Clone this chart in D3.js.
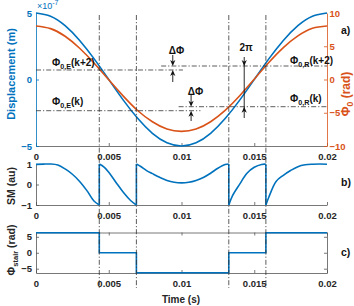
<!DOCTYPE html>
<html>
<head>
<meta charset="utf-8">
<script src="https://cdn.jsdelivr.net/npm/d3@7"></script>
<style>
  body { margin: 0; background: #fff; }
  svg { font-family: "Liberation Sans", Arial, sans-serif; }
</style>
</head>
<body>
<script>
const width = 354;
const height = 306;
const blue = "#0072BD";
const orange = "#D95319";
const axisGray = "#555";
const ink = "#262626";

// ---- data ----
const time = [0, 0.001, 0.002, 0.003, 0.004, 0.005, 0.006, 0.007, 0.008, 0.009, 0.01,
  0.011, 0.012, 0.013, 0.014, 0.015, 0.016, 0.017, 0.018, 0.019, 0.02];
// displacement in units of 1e-7 m
const displacement = [5.0, 4.76, 4.05, 2.94, 1.55, 0.0, -1.55, -2.94, -4.05, -4.76, -5.0,
  -4.76, -4.05, -2.94, -1.55, 0.0, 1.55, 2.94, 4.05, 4.76, 5.0];
// phase phi0 (rad)
const phi0 = [8.05, 7.65, 6.5, 4.7, 2.45, -0.05, -2.5, -4.7, -6.35, -7.45, -7.8,
  -7.45, -6.35, -4.65, -2.45, 0.05, 2.55, 4.8, 6.55, 7.7, 8.05];

const switchTimes = [0.00435, 0.0069, 0.01325, 0.0158];

const smSeg1 = [[0, 0.98], [0.0005, 0.995], [0.001, 1.0], [0.0015, 0.95], [0.002, 0.76],
  [0.0025, 0.5], [0.003, 0.15], [0.0035, -0.3], [0.004, -0.82], [0.00435, -1.0]];
const smSeg2 = [[0.00435, 1.0], [0.0047, 0.84], [0.005, 0.6], [0.0055, 0.1], [0.006, -0.38],
  [0.0065, -0.78], [0.0069, -1.0]];
const smSeg3 = [[0.0069, 1.0], [0.0072, 0.88], [0.0076, 0.68], [0.008, 0.53], [0.0085, 0.35],
  [0.009, 0.2], [0.0095, 0.11], [0.01, 0.08], [0.0105, 0.11], [0.011, 0.2], [0.0115, 0.34],
  [0.012, 0.55], [0.0125, 0.79], [0.013, 0.97], [0.01325, 1.0]];
const smSeg4 = [[0.01325, -1.0], [0.0135, -0.55], [0.014, 0.02], [0.0145, 0.55], [0.015, 0.84],
  [0.0155, 0.98], [0.0158, 0.99]];
const smSeg5 = [[0.0158, -1.0], [0.016, -0.62], [0.0165, 0.15], [0.017, 0.45], [0.0175, 0.68],
  [0.018, 0.87], [0.0185, 0.96], [0.019, 0.99], [0.0195, 1.0], [0.02, 0.99]];
const smSegments = [smSeg1, smSeg2, smSeg3, smSeg4, smSeg5];

const stairTimes = [0, 0.00435, 0.0069, 0.01325, 0.0158, 0.02];
const stairLevels = [6.28, 0, -6.28, 0, 6.28, 6.28];

const phiE = [-4.69, 1.43]; // phi0,E(k), phi0,E(k+2)
const phiR = [-4.09, 2.03]; // phi0,R(k), phi0,R(k+2)

const xTicks = [0, 0.005, 0.01, 0.015, 0.02];
const dispTicks = [-5, 0, 5];
const phiTicks = [-10, -5, 0, 5, 10];
const smTicks = [-1, 0, 1];
const stairTicks = [-5, 0, 5];

// ---- scales ----
const x = d3.scaleLinear().domain([0, 0.02]).range([36, 327]);
const yDisp = d3.scaleLinear().domain([-5, 5]).range([146, 13]);
const yPhi = d3.scaleLinear().domain([-10, 10]).range([146, 13]);
const ySM = d3.scaleLinear().domain([-1, 1]).range([205, 164]);
const yStair = d3.scaleLinear().domain([-6.35, 6.35]).range([273, 232.5]);

const fmt = d3.format("~g");

const svg = d3.select("body").append("svg")
  .attr("width", width)
  .attr("height", height);

function styleAxis(g, color, textColor) {
  g.attr("font-family", null).attr("font-size", null);
  g.select(".domain").attr("stroke", color).attr("stroke-width", 0.8);
  g.selectAll(".tick line").attr("stroke", color).attr("stroke-width", 0.8);
  g.selectAll(".tick text")
    .attr("fill", textColor)
    .attr("font-size", 9.5)
    .attr("font-weight", "bold");
}

function xAxisAt(y0) {
  svg.append("g")
    .attr("transform", `translate(0,${y0})`)
    .call(d3.axisBottom(x).tickValues(xTicks).tickFormat(fmt)
      .tickSize(-3).tickSizeOuter(0).tickPadding(7.5))
    .call((g) => styleAxis(g, axisGray, ink));
}

function yAxisLeft(scale, ticks, color, textColor) {
  svg.append("g")
    .attr("transform", "translate(36,0)")
    .call(d3.axisLeft(scale).tickValues(ticks).tickFormat(fmt)
      .tickSize(-3).tickSizeOuter(0).tickPadding(4))
    .call((g) => styleAxis(g, color, textColor));
}

// ---- panel a ----
xAxisAt(146);
yAxisLeft(yDisp, dispTicks, blue, blue);
svg.append("g")
  .attr("transform", "translate(327,0)")
  .call(d3.axisRight(yPhi).tickValues(phiTicks).tickFormat(fmt)
    .tickSize(-3).tickSizeOuter(0).tickPadding(2.5))
  .call((g) => styleAxis(g, orange, orange));

const lineDisp = d3.line()
  .x((d, i) => x(time[i]))
  .y((d) => yDisp(d))
  .curve(d3.curveNatural);
const linePhi = d3.line()
  .x((d, i) => x(time[i]))
  .y((d) => yPhi(d))
  .curve(d3.curveNatural);

svg.append("path").datum(displacement)
  .attr("d", lineDisp)
  .attr("fill", "none").attr("stroke", blue).attr("stroke-width", 1.6);
svg.append("path").datum(phi0)
  .attr("d", linePhi)
  .attr("fill", "none").attr("stroke", orange).attr("stroke-width", 1.6);

// ---- panel b ----
xAxisAt(205);
yAxisLeft(ySM, smTicks, axisGray, ink);

const lineSM = d3.line()
  .x((d) => x(d[0]))
  .y((d) => ySM(d[1]))
  .curve(d3.curveCatmullRom.alpha(0.5));

smSegments.forEach((seg, i) => {
  svg.append("path").datum(seg)
    .attr("d", lineSM)
    .attr("fill", "none").attr("stroke", blue).attr("stroke-width", 1.6);
  if (i > 0) {
    const a = smSegments[i - 1][smSegments[i - 1].length - 1];
    const b = seg[0];
    svg.append("line")
      .attr("x1", x(a[0])).attr("y1", ySM(a[1]))
      .attr("x2", x(b[0])).attr("y2", ySM(b[1]))
      .attr("stroke", blue).attr("stroke-width", 1.6);
  }
});

// ---- panel c ----
xAxisAt(273);
yAxisLeft(yStair, stairTicks, axisGray, ink);
svg.append("g")
  .attr("transform", "translate(0,232.5)")
  .call(d3.axisTop(x).tickValues(xTicks).tickFormat("").tickSize(-3).tickSizeOuter(0))
  .call((g) => styleAxis(g, axisGray, ink));
svg.append("g")
  .attr("transform", "translate(327,0)")
  .call(d3.axisRight(yStair).tickValues(stairTicks).tickFormat("").tickSize(-3).tickSizeOuter(0))
  .call((g) => styleAxis(g, axisGray, ink));

svg.append("path").datum(stairLevels)
  .attr("d", d3.line()
    .x((d, i) => x(stairTimes[i]))
    .y((d) => yStair(d))
    .curve(d3.curveStepAfter))
  .attr("fill", "none").attr("stroke", blue).attr("stroke-width", 1.6);

// ---- dash-dot guide lines ----
const dash = "5,2,1.2,2";
const guides = svg.append("g")
  .attr("stroke", "#333").attr("stroke-width", 0.8)
  .attr("stroke-dasharray", dash).attr("fill", "none");

switchTimes.forEach((t) => {
  guides.append("line")
    .attr("x1", x(t)).attr("x2", x(t))
    .attr("y1", 15).attr("y2", 288);
});

guides.append("line")
  .attr("x1", x(0)).attr("x2", x(0.0101))
  .attr("y1", yPhi(phiE[1])).attr("y2", yPhi(phiE[1]));
guides.append("line")
  .attr("x1", x(0)).attr("x2", x(0.0113))
  .attr("y1", yPhi(phiE[0])).attr("y2", yPhi(phiE[0]));
guides.append("line")
  .attr("x1", x(0.0086)).attr("x2", x(0.02))
  .attr("y1", yPhi(phiR[1])).attr("y2", yPhi(phiR[1]));
guides.append("line")
  .attr("x1", x(0.0098)).attr("x2", x(0.02))
  .attr("y1", yPhi(phiR[0])).attr("y2", yPhi(phiR[0]));

// ---- arrows ----
function arrowHead(px, tip, dir) {
  // dir = 1 points down, -1 points up
  const l = 6, w = 2.6;
  const p = [[px, tip], [px - w, tip - dir * l], [px, tip - dir * 4.2], [px + w, tip - dir * l]];
  svg.append("path")
    .attr("d", "M" + p.map((q) => q.join(",")).join("L") + "Z")
    .attr("fill", "#111");
}
function arrow(px, from, tip) {
  const dir = tip > from ? 1 : -1;
  svg.append("line")
    .attr("x1", px).attr("x2", px)
    .attr("y1", from).attr("y2", tip - dir * 3)
    .attr("stroke", "#111").attr("stroke-width", 0.9);
  arrowHead(px, tip, dir);
}

const dA = x(0.0094);
arrow(dA, 55, yPhi(phiR[1]));
arrow(dA, 82, yPhi(phiE[1]));
const dB = x(0.01066);
arrow(dB, 95, yPhi(phiR[0]));
arrow(dB, 121, yPhi(phiE[0]));

const twoPiX = x(0.01431);
svg.append("line")
  .attr("x1", twoPiX).attr("x2", twoPiX)
  .attr("y1", 57).attr("y2", 118)
  .attr("stroke", "#111").attr("stroke-width", 0.9);
arrowHead(twoPiX, yPhi(phiR[1]), 1);
arrowHead(twoPiX, yPhi(phiR[0]), -1);

// ---- texts ----
function label(px, py, main, sub, tail, opts = {}) {
  const t = svg.append("text")
    .attr("x", px).attr("y", py)
    .attr("font-size", opts.size || 10)
    .attr("font-weight", "bold")
    .attr("fill", opts.color || "#111")
    .attr("text-anchor", opts.anchor || "start");
  if (opts.rotate) t.attr("transform", `rotate(-90,${px},${py})`);
  t.append("tspan").text(main);
  if (sub) {
    t.append("tspan").attr("font-size", (opts.size || 10) * 0.72).attr("dy", 3).text(sub);
    t.append("tspan").attr("dy", -3).text(tail || "");
  }
  return t;
}

label(52, 66, "Φ", "0,E", "(k+2)");
label(52, 105, "Φ", "0,E", "(k)");
label(290, 64, "Φ", "0,R", "(k+2)");
label(290, 102, "Φ", "0,R", "(k)");
label(176.5, 54, "ΔΦ", null, null, { anchor: "middle" });
label(195.5, 95, "ΔΦ", null, null, { anchor: "middle" });
label(246, 51, "2π", null, null, { anchor: "middle" });

const exp = svg.append("text")
  .attr("x", 37).attr("y", 8.5)
  .attr("font-size", 9).attr("fill", blue);
exp.append("tspan").text("×10");
exp.append("tspan").attr("font-size", 7).attr("dy", -4).text("-7");

label(15, 74, "Displacement (m)", null, null, { rotate: true, anchor: "middle", size: 11, color: blue });
label(350, 94, "Φ", "0", " (rad)", { rotate: true, anchor: "middle", size: 12, color: orange });
label(15, 186, "SM (au)", null, null, { rotate: true, anchor: "middle", size: 10.5, color: ink });
label(15, 250, "Φ", "stair", " (rad)", { rotate: true, anchor: "middle", size: 10.5, color: ink });
label(181, 302.5, "Time (s)", null, null, { anchor: "middle", size: 10, color: ink });

label(341, 34, "a)", null, null, { size: 10.5 });
label(341, 186, "b)", null, null, { size: 10.5 });
label(341, 256, "c)", null, null, { size: 10.5 });
</script>
</body>
</html>
